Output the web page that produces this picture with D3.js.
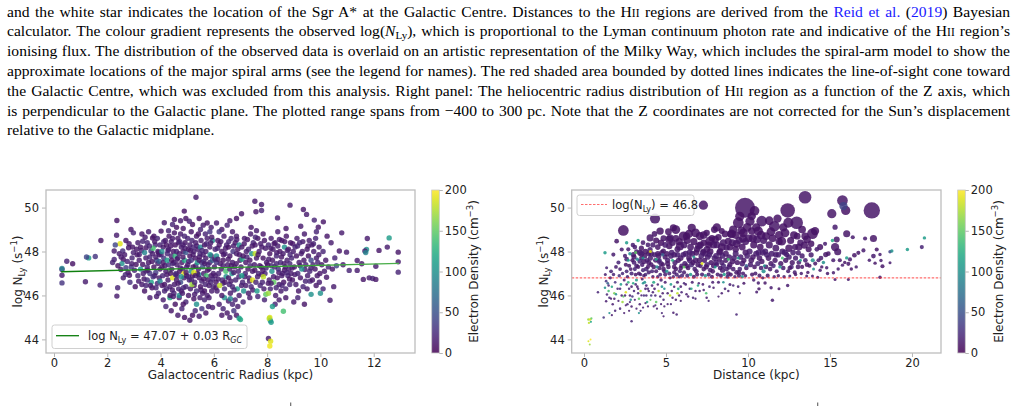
<!DOCTYPE html>
<html>
<head>
<meta charset="utf-8">
<script src="https://cdn.jsdelivr.net/npm/d3@7"></script>
<style>
  body { margin: 0; background: #fff; }
  svg { display: block; }
</style>
</head>
<body>
<div id="container"></div>
<script>
// ---- data ----
// left panel: [galactocentric radius kpc, log N_Ly, electron density cm^-3]
let radiusData = [
  [0.30,47.18,20],[0.30,47.23,90],[0.30,46.92,15],[0.30,46.57,30],[0.48,47.56,20],[0.70,47.44,10],[1.18,46.62,15],[1.30,47.71,110],[1.22,47.75,40],[1.55,47.77,30],[1.73,46.47,20],[1.76,48.50,10],
  [2.36,49.41,10],[2.35,48.74,15],[2.48,48.35,190],[2.39,46.35,20],[2.36,45.97,15],[2.89,49.0,12],[2.98,48.85,20],[2.80,48.17,10],[2.58,48.02,25],[2.26,48.02,15],[2.26,47.64,20],[2.60,47.64,10],[2.70,47.26,35],[2.51,47.18,15],[2.83,46.92,10],[2.93,47.71,20],[2.45,47.9,15],[2.55,47.45,100],[2.65,47.85,15],[2.75,47.55,20],[2.4,47.35,10],[2.9,47.3,30],[2.95,48.2,12],[2.2,47.5,20],[2.7,48.5,10],[2.85,46.6,25],[2.6,46.8,15],[2.3,48.3,40],[2.98,47.95,18],[2.78,47.05,12],
  [2.52,47.75,15],[2.68,46.95,20],[2.82,48.35,12],[2.92,47.45,15],[3.02,47.15,20],[3.12,47.85,12],[3.18,46.65,15],[3.28,48.05,20],[3.38,46.75,12],[3.42,48.65,15],
  [3.08,47.41,10],[3.20,47.86,15],[3.33,48.47,20],[3.45,48.17,12],[3.64,48.02,30],[3.70,48.62,10],[3.95,46.8,15],[3.83,46.35,20],[3.45,47.11,25],[3.33,47.41,10],[3.45,47.71,15],[3.1,48.1,12],[3.15,46.9,20],[3.25,47.2,105],[3.3,46.5,15],[3.4,46.2,10],[3.5,48.4,20],[3.55,47.5,12],[3.6,47.0,30],[3.65,46.6,115],[3.7,47.9,15],[3.75,47.3,10],[3.8,48.3,20],[3.85,47.6,45],[3.9,48.0,15],[3.92,46.1,20],[3.98,47.2,12],[3.6,45.9,15],[3.5,46.7,25],[3.2,47.6,15],[3.4,47.95,90],[3.75,48.7,10],[3.88,48.6,20],[3.95,47.85,15],[3.3,48.8,12],[3.55,48.9,15],[3.68,46.35,10],[3.82,47.05,35],[3.9,47.45,15],[3.45,46.45,20],[3.15,48.4,15],[3.05,46.4,10],[3.6,47.75,20],[3.72,48.15,140],[3.25,48.2,12],[3.98,48.3,20],[3.85,45.95,15],[3.35,47.0,15],[3.5,47.3,18],[3.78,46.9,12],[3.95,47.55,60],
  [3.52,47.15,12],[3.58,48.25,20],[3.62,46.45,15],[3.68,47.55,10],[3.72,46.85,25],[3.78,48.45,12],[3.82,47.75,15],[3.88,46.55,20],[3.92,47.95,12],[3.98,46.65,90],[4.02,47.85,15],[4.06,46.45,12],[4.12,48.45,20],[4.16,47.35,15],[4.24,46.95,12],[4.28,48.05,20],[4.34,47.15,150],[4.38,48.25,12],[4.44,46.25,15],[4.46,47.45,20],
  [4.02,48.93,10],[4.14,49.31,15],[4.52,49.46,12],[4.45,49.23,20],[4.89,49.84,10],[4.75,49.4,15],[4.6,49.1,10],[4.3,48.95,20],[4.85,49.05,12],[4.95,49.5,10],
  [4.1,45.8,15],[4.2,45.5,20],[4.4,45.3,12],[4.55,45.6,10],[4.65,45.1,15],[4.8,45.4,20],[4.9,45.0,10],[4.35,45.9,120],[4.7,45.9,15],[4.95,45.7,20],
  [4.05,47.3,12],[4.08,46.9,20],[4.1,48.2,15],[4.12,47.7,30],[4.15,46.5,10],[4.18,48.5,15],[4.05,48.0,95],[4.2,47.1,15],[4.15,46.2,20],[4.1,47.5,12],
  [4.22,48.3,10],[4.25,47.9,20],[4.28,46.7,15],[4.3,47.4,25],[4.32,48.7,12],[4.35,46.4,15],[4.38,47.0,10],[4.25,47.6,110],[4.3,48.1,15],[4.4,47.8,20],[4.36,46.0,12],[4.22,46.3,20],[4.4,48.45,15],
  [4.42,47.2,15],[4.45,46.8,190],[4.48,48.0,12],[4.5,47.5,20],[4.52,46.5,15],[4.55,48.3,10],[4.58,47.0,25],[4.45,48.6,15],[4.5,46.1,20],[4.55,47.8,130],[4.6,46.7,12],[4.48,45.95,15],[4.6,48.0,20],[4.42,47.6,10],
  [4.62,47.4,15],[4.65,48.6,12],[4.68,46.3,20],[4.7,47.9,15],[4.72,47.1,10],[4.75,46.6,45],[4.78,48.2,15],[4.65,47.7,20],[4.7,46.0,100],[4.8,47.5,12],[4.75,48.8,15],[4.62,46.9,20],[4.68,48.4,12],[4.78,46.2,15],
  [4.82,47.2,20],[4.85,48.0,10],[4.88,46.8,15],[4.9,47.6,120],[4.92,48.4,12],[4.95,46.4,20],[4.98,47.3,15],[4.85,45.6,10],[4.9,48.7,20],[4.82,46.1,15],[4.95,47.95,55],[4.88,47.0,195],[4.98,46.9,12],[4.84,48.3,15],
  [4.52,48.85,12],[4.56,46.95,20],[4.62,47.65,15],[4.66,46.55,12],[4.72,48.45,20],[4.74,47.25,15],[4.78,46.85,100],[4.84,47.75,12],[4.86,46.35,20],[4.92,48.15,15],[4.96,47.05,12],[5.04,46.85,20],[5.06,47.55,15],[5.12,48.05,12],[5.16,46.7,20],[5.22,47.85,15],[5.26,46.45,12],[5.32,47.35,20],[5.36,48.25,15],[5.44,46.95,90],[5.46,47.75,12],
  [5.33,50.47,15],[5.2,49.23,10],[5.08,49.38,20],[5.45,49.5,12],[5.6,49.2,15],[5.75,49.3,10],[5.5,49.0,20],[5.9,49.1,15],[5.15,48.9,12],[5.85,48.9,30],
  [5.1,44.87,15],[5.2,45.1,10],[5.3,45.3,20],[5.45,45.05,15],[5.55,45.4,30],[5.7,45.2,12],[5.8,45.5,15],[5.35,45.6,100],[5.65,45.8,20],[5.95,45.45,15],[5.25,45.85,10],
  [5.02,47.4,15],[5.05,48.1,12],[5.08,46.7,20],[5.1,47.8,10],[5.12,46.3,15],[5.15,47.1,100],[5.18,48.5,20],[5.05,46.0,12],[5.1,48.3,15],[5.15,47.6,30],[5.2,46.9,12],[5.02,48.6,20],[5.18,46.5,170],
  [5.22,47.3,10],[5.25,48.0,15],[5.28,46.6,20],[5.3,47.7,12],[5.32,48.4,15],[5.35,46.2,25],[5.38,47.0,10],[5.25,47.05,190],[5.3,46.9,15],[5.35,48.7,12],[5.22,48.2,20],[5.38,47.5,110],[5.28,46.05,15],[5.4,48.1,15],
  [5.42,47.2,15],[5.45,46.8,12],[5.48,47.9,20],[5.5,46.4,10],[5.52,48.5,15],[5.55,47.5,25],[5.58,46.1,15],[5.45,47.6,12],[5.5,48.2,90],[5.55,46.65,20],[5.6,47.85,15],[5.42,48.8,10],[5.58,47.3,45],[5.48,45.9,15],
  [5.62,47.0,15],[5.65,48.3,10],[5.68,46.5,20],[5.7,47.7,12],[5.72,46.9,140],[5.75,48.6,15],[5.78,47.4,20],[5.65,46.2,10],[5.7,48.0,15],[5.62,47.55,25],[5.78,46.7,12],[5.75,46.0,15],[5.68,48.8,20],
  [5.82,47.2,15],[5.85,48.2,12],[5.88,46.6,20],[5.9,47.8,10],[5.92,46.2,15],[5.95,48.5,100],[5.98,47.0,15],[5.85,47.5,20],[5.9,46.9,12],[5.82,45.9,15],[5.95,47.6,60],[5.88,48.4,12],[5.98,46.4,20],
  [5.52,46.25,15],[5.56,48.05,20],[5.62,46.75,12],[5.66,47.45,15],[5.72,48.35,20],[5.76,47.15,12],[5.82,46.45,15],[5.86,47.85,100],[5.92,48.65,12],[5.96,46.75,20],[6.04,47.65,15],[6.08,46.35,12],[6.14,48.15,20],[6.16,46.75,15],[6.24,47.45,12],[6.26,48.45,15],[6.34,46.55,20],[6.36,47.85,12],[6.44,48.15,15],[6.46,46.85,100],
  [6.1,49.3,15],[6.3,49.0,12],[6.5,49.2,20],[6.7,48.9,15],[6.85,49.5,10],[7.04,49.72,12],[6.2,48.9,30],[6.6,49.4,15],
  [6.2,45.6,15],[6.35,45.4,20],[6.5,45.2,12],[6.6,45.0,15],[6.75,45.3,30],[6.85,45.1,12],[6.95,44.96,110],[7.0,44.9,120],[6.7,45.6,20],[6.9,45.5,15],[6.4,45.9,100],[6.55,45.75,15],[6.3,45.1,12],
  [6.02,47.3,15],[6.05,48.1,20],[6.08,46.6,12],[6.1,47.8,100],[6.12,46.2,15],[6.15,48.5,10],[6.18,47.0,20],[6.05,46.9,15],[6.1,47.5,30],[6.2,48.3,12],[6.22,46.45,180],[6.15,47.65,15],
  [6.28,47.2,15],[6.3,48.0,12],[6.32,46.7,20],[6.35,47.6,10],[6.38,48.7,15],[6.4,46.3,25],[6.42,47.9,15],[6.45,47.1,140],[6.3,46.0,12],[6.48,48.3,20],[6.35,47.35,15],[6.42,46.6,12],
  [6.52,47.4,15],[6.55,48.2,10],[6.58,46.5,20],[6.6,47.8,12],[6.62,46.1,15],[6.65,48.6,20],[6.68,47.0,100],[6.7,47.5,15],[6.55,46.8,12],[6.72,48.0,30],[6.6,47.2,15],[6.7,46.4,20],[6.62,45.85,90],
  [6.78,47.3,15],[6.8,48.4,12],[6.82,46.7,20],[6.85,47.9,15],[6.88,46.3,110],[6.9,48.1,10],[6.92,47.1,20],[6.95,46.0,15],[6.98,47.6,12],[6.8,45.8,20],[6.85,48.7,15],[6.95,48.3,100],[6.75,47.05,15],
  [6.54,47.65,12],[6.56,48.45,20],[6.64,46.65,15],[6.66,47.35,12],[6.74,48.25,15],[6.76,46.25,20],[6.84,47.45,12],[6.86,48.55,15],[6.94,46.85,20],[6.96,47.85,12],[7.04,46.45,15],[7.06,47.65,120],[7.14,48.35,12],[7.16,46.85,15],[7.24,47.75,20],[7.26,48.55,12],[7.34,46.65,15],[7.36,47.35,20],[7.44,48.25,12],[7.46,46.25,15],
  [7.02,47.3,15],[7.05,48.2,12],[7.08,46.6,20],[7.1,47.8,10],[7.12,46.2,100],[7.15,48.6,15],[7.18,47.0,20],[7.05,46.9,110],[7.2,47.5,12],[7.22,48.0,15],[7.1,45.7,20],[7.2,46.45,15],
  [7.28,47.2,12],[7.3,48.1,20],[7.32,46.8,15],[7.35,47.6,10],[7.38,48.8,15],[7.4,46.4,20],[7.42,47.9,100],[7.45,47.1,15],[7.3,46.1,12],[7.48,48.4,20],[7.35,45.9,15],[7.4,49.1,12],[7.45,46.7,190],
  [7.52,47.4,15],[7.55,48.3,12],[7.58,46.6,20],[7.6,47.7,15],[7.62,46.2,110],[7.65,48.6,10],[7.68,47.0,20],[7.55,47.9,180],[7.7,48.0,15],[7.58,49.81,12],[7.54,50.29,15],[7.72,47.35,12],[7.65,45.95,20],[7.6,48.95,15],
  [7.79,50.14,15],[7.79,49.87,20],[7.78,47.3,12],[7.8,48.2,15],[7.82,46.6,20],[7.85,47.7,10],[7.88,46.3,15],[7.9,48.5,12],[7.92,47.0,20],[7.95,46.05,150],[7.98,47.5,15],[7.85,48.8,12],[7.9,45.8,20],[7.8,46.95,15],
  [7.54,47.15,12],[7.56,48.65,20],[7.64,46.85,15],[7.66,47.85,12],[7.74,46.45,20],[7.76,48.35,15],[7.84,47.15,12],[7.86,46.85,180],[7.94,48.15,15],[7.96,47.25,20],[8.04,46.55,12],[8.06,47.65,15],[8.14,48.15,12],[8.16,47.35,20],[8.24,46.85,15],[8.26,48.35,12],[8.34,46.35,20],[8.36,47.95,15],[8.44,47.05,12],[8.46,48.55,15],
  [8.1,45.0,190],[8.12,44.86,100],[8.08,44.95,180],[8.15,44.78,110],[8.05,44.04,15],[8.13,43.92,190],[8.1,43.7,195],[8.61,45.28,140],
  [8.39,49.53,15],[8.71,49.05,12],[8.86,50.11,15],[8.02,47.4,12],[8.05,48.3,20],[8.08,46.7,15],[8.1,47.9,10],[8.12,46.3,20],[8.15,48.6,15],[8.18,47.1,100],[8.2,47.6,12],[8.05,46.1,170],[8.22,48.1,15],[8.25,46.6,150],[8.28,47.3,20],[8.3,48.4,12],[8.32,46.0,15],[8.35,47.8,20],[8.38,46.8,12],[8.4,48.9,15],[8.42,47.2,25],[8.45,46.5,15],[8.48,48.0,12],[8.5,47.5,20],[8.52,46.2,15],[8.55,48.5,12],[8.58,47.0,20],[8.6,47.9,15],[8.62,46.6,10],[8.65,48.2,100],[8.68,47.3,15],[8.7,46.3,20],[8.72,48.7,12],[8.75,47.6,15],[8.78,46.9,20],[8.8,48.1,12],[8.82,47.2,15],[8.85,46.5,20],[8.88,48.4,12],[8.9,47.0,15],[8.92,47.7,20],[8.95,46.7,12],[8.98,48.0,15],[8.3,45.6,20],[8.45,45.8,15],[8.7,45.9,12],[8.2,45.5,110],[8.55,46.9,15],[8.35,47.45,20],[8.15,46.55,15],[8.65,47.15,12],[8.85,47.45,20],[8.4,48.25,15],
  [8.54,47.75,12],[8.56,46.45,20],[8.64,47.45,15],[8.66,48.45,12],[8.74,47.05,20],[8.76,48.05,15],[8.84,46.75,12],[8.86,47.85,20],[8.94,47.25,15],[8.96,48.35,12],[9.04,46.95,15],[9.14,48.25,20],[9.24,47.35,12],[9.34,48.45,15],[9.44,46.65,20],[9.54,48.25,12],[9.64,47.25,15],[9.74,48.35,20],[9.84,46.45,12],[9.94,47.85,15],
  [9.26,49.15,15],[9.36,49.91,12],[9.48,49.69,15],[9.77,49.43,20],[9.92,49.11,12],[9.42,47.18,15],[9.61,46.65,20],[9.96,46.6,15],[9.02,47.3,12],[9.05,48.2,20],[9.08,46.5,15],[9.1,47.8,10],[9.12,48.6,15],[9.15,47.0,20],[9.18,46.2,12],[9.2,47.5,15],[9.22,48.4,20],[9.25,46.8,12],[9.28,47.9,15],[9.3,47.2,100],[9.32,48.0,15],[9.35,46.4,20],[9.38,47.6,12],[9.4,48.8,15],[9.45,47.4,20],[9.5,48.1,12],[9.52,46.9,15],[9.55,47.8,10],[9.58,48.5,15],[9.6,47.1,20],[9.65,47.6,40],[9.68,48.3,15],[9.7,46.7,12],[9.72,47.4,20],[9.75,48.0,15],[9.8,47.2,12],[9.82,48.6,20],[9.85,47.7,15],[9.88,46.9,12],[9.9,47.5,20],[9.95,48.2,15],[9.98,47.0,12],[9.5,46.3,15],[9.15,45.9,20],[9.65,46.05,100],[9.0,45.7,15],[9.4,45.6,12],[9.85,48.9,20],
  [10.11,49.35,12],[10.8,48.85,15],[10.71,48.02,12],[10.98,47.97,15],[10.54,47.71,20],[10.23,46.83,12],[10.36,45.78,15],[10.05,47.4,12],[10.1,48.0,20],[10.15,47.1,15],[10.2,47.6,12],[10.3,47.3,20],[10.4,48.4,15],[10.45,47.2,12],[10.5,46.4,15],[10.6,47.35,40],[10.1,46.3,20],[10.25,48.7,12],[10.85,47.4,15],[10.0,46.1,100],
  [11.76,48.59,15],[12.58,48.62,110],[12.51,48.2,15],[12.92,47.97,12],[12.92,47.53,15],[12.92,47.06,20],[12.08,47.33,15],[11.55,47.44,12],[11.38,47.59,15],[11.08,47.14,20],[11.38,47.14,15],[11.61,46.73,12],[11.83,46.8,15],[11.96,46.77,20],[12.08,46.73,12],[11.73,48.09,100],[11.67,48.02,15],[11.7,47.95,90],[12.2,48.05,12]
];

// right panel: [heliocentric distance kpc, log N_Ly, electron density cm^-3, region size (relative)]
let distanceData = [
  [0.27,44.9,170,1],[0.37,44.9,190,1],[0.45,44.95,150,0.8],[0.3,44.75,180,0.8],[0.42,44.8,120,0.8],[0.27,43.92,190,0.6],[0.35,43.77,170,0.6],[0.4,44.0,200,0.6],[0.85,46.15,20,1],
  [1.28,47.94,110,2],[1.38,47.26,20,1.5],[1.3,46.95,15,1.5],[1.35,46.65,30,1.2],[1.28,46.35,100,1],[1.4,46.04,20,1],[1.35,45.74,15,1],[1.2,45.0,30,1],[1.45,46.55,60,1.2],[1.5,46.2,140,1],[1.55,45.9,20,1],[1.6,46.8,15,2],[1.65,47.1,20,2.5],[1.7,46.4,120,1],[1.75,45.6,15,1],[1.79,47.86,15,3],[1.99,48.47,12,4],[1.8,46.95,20,2],[1.85,46.1,160,1],[1.9,45.3,20,1],[1.95,47.3,15,2.5],[1.9,46.6,30,1.2],[1.7,45.1,15,0.8],[1.55,45.2,100,0.8],[1.85,45.85,15,1],
  [2.3,48.09,15,3],[2.4,48.96,10,25],[2.1,47.5,20,3],[2.2,47.2,15,2.5],[2.15,46.9,25,2],[2.25,46.5,110,1.2],[2.05,46.3,20,1],[2.3,46.0,15,1],[2.35,45.7,170,1],[2.2,45.4,20,1],[2.45,45.2,15,0.8],[2.5,47.8,15,3],[2.55,47.4,12,3],[2.6,47.1,20,2.5],[2.65,46.85,15,2],[2.7,46.6,130,1.2],[2.75,46.3,20,1],[2.8,46.0,15,1],[2.85,45.8,100,1],[2.9,45.5,15,1],[2.9,44.83,20,1],[2.95,47.6,12,3],[2.98,48.3,15,3.5],[2.6,48.4,110,2],[2.7,48.1,15,3],[2.45,46.7,15,1.5],[2.55,46.15,190,1],[2.65,45.6,20,1],[2.75,45.3,15,0.8],[2.35,47.0,20,2],[2.85,47.2,12,2.5],[2.9,46.4,15,1.2],[2.8,47.9,100,2],[2.5,46.0,15,1],[2.95,45.95,30,1],
  [3.01,47.86,15,5],[3.42,47.94,12,7],[3.05,47.5,15,4],[3.1,47.2,20,3],[3.15,46.95,12,2.5],[3.2,46.7,110,1.5],[3.25,46.4,15,1.2],[3.3,46.1,20,1],[3.35,45.85,150,1],[3.4,45.6,15,1],[3.45,45.3,20,0.8],[3.5,47.7,12,4],[3.55,47.4,15,3.5],[3.6,47.15,20,3],[3.65,46.9,12,2],[3.7,46.6,100,1.5],[3.75,46.3,15,1.2],[3.8,46.0,20,1],[3.85,45.7,120,1],[3.9,45.5,15,0.8],[3.95,47.9,12,5],[3.1,48.2,15,4],[3.3,48.5,120,2],[3.2,48.0,15,4],[3.5,48.15,12,5],[3.6,48.4,15,4],[3.75,48.0,10,6],[3.85,47.6,15,4],[3.9,47.3,12,3],[3.95,47.05,15,3],[3.4,47.55,20,4],[3.3,47.3,12,3],[3.25,47.65,90,2],[3.7,47.8,12,5],[3.15,46.5,20,1.2],[3.45,46.2,180,1],[3.55,46.75,15,1.5],[3.65,46.0,25,1],[3.8,46.45,15,1.2],[3.35,45.2,100,0.8],[3.6,45.45,20,0.8],[3.95,46.2,15,1],[3.05,46.2,20,1],[3.9,48.3,15,4],[3.45,46.95,15,2],[3.75,46.95,20,2.5],[3.2,45.4,15,0.8],
  [4.33,49.5,12,22],[4.64,48.93,10,11],[4.03,48.62,12,10],[4.03,48.09,15,5],[4.84,48.02,12,5],[4.05,47.7,15,5],[4.1,47.4,12,4],[4.15,47.1,20,3],[4.2,46.85,15,2],[4.25,46.6,120,1.5],[4.3,46.3,15,1.2],[4.35,46.0,20,1],[4.4,45.7,150,1],[4.45,45.4,15,0.8],[4.5,47.9,12,6],[4.55,47.55,15,4],[4.6,47.25,12,3.5],[4.65,46.95,20,2.5],[4.7,46.7,15,2],[4.75,46.4,100,1.2],[4.8,46.1,15,1],[4.85,45.8,20,1],[4.9,45.5,15,0.8],[4.95,47.75,12,5],[4.2,48.3,15,5],[4.4,48.5,10,7],[4.5,48.2,12,6],[4.7,48.4,10,8],[4.85,48.6,12,7],[4.95,48.3,15,6],[4.3,47.85,15,5],[4.6,47.6,20,4],[4.8,47.4,12,4],[4.9,47.1,15,3],[4.45,47.3,90,2],[4.35,47.6,15,4],[4.75,47.95,12,5],[4.15,46.45,20,1.2],[4.55,46.2,180,1],[4.65,45.95,20,1],[4.95,46.6,15,1.5],[4.25,45.5,15,0.8],[4.75,45.2,20,0.8],[4.85,45.05,15,0.8],[4.5,46.85,15,2],[4.1,46.0,30,1],[4.3,48.8,12,6],
  [5.45,49.08,10,10],[5.25,48.62,12,10],[5.85,48.24,10,14],[5.45,45.21,15,1],[5.65,45.13,20,1],[5.05,47.9,12,6],[5.1,47.6,15,5],[5.15,47.3,12,4],[5.2,47.0,20,3],[5.25,46.8,15,2],[5.3,46.5,110,1.2],[5.35,46.2,15,1],[5.4,45.9,20,1],[5.5,47.85,12,6],[5.55,47.5,15,5],[5.6,47.2,12,4],[5.65,46.95,20,3],[5.7,46.6,15,1.5],[5.75,46.3,120,1.2],[5.8,46.0,15,1],[5.9,47.7,12,6],[5.95,47.35,15,4],[5.98,46.9,20,3],[5.2,48.25,10,8],[5.4,48.4,12,8],[5.6,48.6,10,9],[5.7,48.1,12,7],[5.15,48.9,10,9],[5.35,47.95,15,6],[5.75,47.6,12,5],[5.05,47.1,100,2],[5.5,47.05,15,3],[5.85,47.1,20,3],[5.9,46.4,15,1.2],[5.25,46.0,180,1],[5.6,45.8,15,1],[5.95,46.15,20,1],[5.1,45.6,15,0.8],[5.45,46.85,20,2],[5.8,46.85,15,2],
  [6.57,49.08,10,14],[6.06,48.7,10,18],[6.1,48.3,12,9],[6.3,48.5,10,10],[6.5,48.2,12,9],[6.7,48.45,10,10],[6.9,48.1,12,8],[6.2,47.9,15,7],[6.4,47.7,12,6],[6.6,47.9,15,7],[6.8,47.6,12,6],[6.15,47.45,15,5],[6.35,47.25,12,4],[6.55,47.4,20,5],[6.75,47.2,15,4],[6.95,47.4,12,5],[6.1,47.05,15,3],[6.3,46.9,20,3],[6.5,46.95,110,2],[6.7,46.85,15,3],[6.9,46.95,12,3],[6.2,46.5,15,1.2],[6.45,46.3,20,1],[6.6,46.6,15,1.5],[6.8,46.2,15,1],[6.95,46.45,120,1],[6.25,46.05,15,1],[6.65,45.9,20,1],[6.45,47.6,15,6],[6.85,47.95,10,7],[6.25,48.7,10,10],
  [7.28,50.11,12,18],[7.48,48.85,10,8],[7.68,48.47,10,18],[7.07,48.7,10,14],[7.28,48.02,12,5],[7.1,48.3,12,9],[7.3,48.4,10,8],[7.5,48.1,12,9],[7.7,48.0,10,8],[7.9,48.3,12,10],[7.15,47.8,15,6],[7.35,47.6,12,5],[7.55,47.75,15,6],[7.75,47.5,12,5],[7.95,47.7,15,6],[7.1,47.35,15,4],[7.3,47.2,12,4],[7.5,47.4,20,5],[7.7,47.15,15,4],[7.9,47.35,12,5],[7.2,46.95,15,3],[7.4,46.9,100,2],[7.6,46.95,15,3],[7.8,46.85,12,3],[7.25,46.5,15,1.2],[7.48,45.89,15,1],[7.65,46.4,20,1.2],[7.85,46.6,15,1.5],[7.05,46.2,15,1],[7.45,46.1,140,1],[7.4,47.9,12,7],[7.6,48.3,10,9],[7.8,48.6,10,8],[7.95,49.0,10,9],
  [8.4,48.93,10,7],[8.8,48.47,10,10],[8.7,48.17,12,7],[8.1,48.3,12,9],[8.3,48.0,10,8],[8.5,48.4,12,10],[8.9,48.2,10,9],[8.05,47.8,15,6],[8.25,47.65,12,5],[8.45,47.8,15,6],[8.65,47.6,12,5],[8.85,47.75,15,6],[8.1,47.4,15,4],[8.3,47.25,12,4],[8.5,47.35,20,5],[8.7,47.2,15,4],[8.9,47.4,12,5],[8.15,46.95,15,3],[8.35,46.9,12,3],[8.55,46.95,110,2],[8.75,46.85,15,3],[8.95,46.95,12,3],[8.2,46.6,15,1.5],[8.6,46.3,20,1.2],[8.9,46.5,15,1.5],[8.4,46.1,15,1],[8.6,48.8,10,9],[8.2,48.65,10,8],[8.95,48.8,10,10],[8.4,47.5,15,5],[8.8,47.0,15,4],
  [9.82,49.99,12,100],[9.41,49.31,10,25],[9.1,49.0,10,14],[9.72,48.85,10,16],[9.3,45.13,20,1],[9.05,48.4,12,10],[9.25,48.1,10,8],[9.45,48.5,12,10],[9.65,48.2,10,9],[9.85,48.45,12,10],[9.15,47.7,15,6],[9.35,47.5,12,5],[9.55,47.75,15,6],[9.75,47.6,12,5],[9.95,47.8,15,6],[9.1,47.2,15,4],[9.3,47.05,12,4],[9.5,47.2,20,4],[9.7,47.0,15,3],[9.9,47.25,12,4],[9.2,46.85,15,2],[9.45,46.9,12,3],[9.65,46.85,100,2],[9.85,46.9,15,2],[9.4,46.4,15,1.2],[9.75,46.55,12,1.5],[9.25,48.75,10,12],[9.6,48.95,10,14],[9.95,49.1,10,16],[9.5,49.6,10,18],
  [10.12,49.38,10,18],[10.23,48.93,10,11],[10.23,49.61,10,14],[10.84,49.38,12,25],[10.63,48.93,10,18],[10.05,48.6,12,12],[10.35,48.3,10,10],[10.55,48.55,12,12],[10.75,48.2,10,9],[10.95,48.5,12,10],[10.1,48.0,15,7],[10.3,47.75,12,6],[10.5,47.9,15,7],[10.7,47.7,12,6],[10.9,47.95,15,7],[10.15,47.4,15,5],[10.4,47.3,12,4],[10.6,47.45,20,5],[10.8,47.25,15,4],[10.25,46.95,12,3],[10.45,47.0,15,3],[10.7,46.9,12,3],[10.95,47.1,100,3],[10.63,46.57,15,2],[10.67,46.3,12,2],[10.53,46.16,15,1.5],[10.35,46.7,15,2],[10.9,46.8,12,2],[10.5,49.1,10,14],[10.4,49.85,10,20],
  [11.61,49.15,12,25],[11.04,46.57,12,2],[11.41,46.35,15,2],[11.89,46.3,12,1.5],[11.49,45.78,15,2],[11.1,48.7,10,12],[11.3,48.3,12,10],[11.5,48.6,10,12],[11.7,48.15,12,9],[11.9,48.45,10,10],[11.05,48.0,15,7],[11.25,47.7,12,6],[11.45,47.9,15,7],[11.65,47.6,12,5],[11.85,47.85,15,6],[11.1,47.3,15,4],[11.35,47.2,12,4],[11.55,47.35,20,4],[11.75,47.1,15,3],[11.95,47.3,110,2],[11.2,46.9,12,3],[11.6,46.85,15,2],[11.85,46.9,12,2],[11.3,49.4,10,16],[11.8,49.5,10,14],
  [12.42,49.87,10,49],[12.97,49.31,12,36],[12.46,49.31,10,22],[12.26,48.85,10,16],[12.06,48.47,10,16],[12.87,48.2,12,7],[12.36,47.86,15,5],[12.42,46.45,15,2],[12.1,48.0,15,7],[12.3,47.6,12,5],[12.5,47.75,15,6],[12.7,47.5,12,5],[12.9,47.7,15,5],[12.15,47.25,15,4],[12.45,47.1,12,3],[12.65,47.3,20,4],[12.85,47.05,15,3],[12.2,46.85,12,2],[12.55,46.88,15,1.5],[12.9,46.95,12,2],[12.6,48.5,10,10],[12.8,48.75,10,12],[12.15,49.1,10,14],
  [13.48,50.47,12,36],[13.48,48.7,10,11],[13.93,48.81,10,25],[14.09,48.93,10,14],[13.44,48.29,10,10],[13.07,47.94,15,5],[13.58,46.88,12,1.5],[13.93,46.88,15,1.5],[13.2,48.4,12,8],[13.7,48.1,10,7],[13.1,47.5,15,4],[13.3,47.3,12,3],[13.5,47.6,15,4],[13.75,47.35,12,3],[13.95,47.6,100,3],[13.25,47.0,15,2],[13.65,47.05,12,2],[13.85,48.35,10,8],[13.3,49.0,10,12],[13.0,48.7,10,9],
  [14.25,46.83,12,1.5],[14.7,48.35,15,3],[14.74,47.86,12,5],[14.8,47.26,15,2],[14.5,47.3,12,2],[14.3,47.6,15,3],[14.6,47.5,100,2],[14.9,47.9,12,4],[14.2,48.1,15,4],[14.4,47.15,15,2],[14.85,47.0,12,2],
  [15.76,50.32,12,25],[15.96,49.87,10,18],[15.82,50.07,40,14],[15.11,49.72,12,18],[16.02,48.81,12,10],[15.31,49.11,15,5],[15.41,48.55,12,7],[15.31,48.2,12,14],[15.47,47.99,12,10],[15.15,48.5,120,2],[15.21,47.03,15,2],[15.31,46.73,12,1.5],[15.76,47.38,15,2],[16.02,47.71,110,2],[15.6,47.6,12,3],[15.5,47.2,15,2],[15.9,47.5,12,2],[15.2,47.6,15,3],
  [16.39,48.65,15,3],[16.49,47.83,12,4],[16.22,47.64,15,3],[16.12,47.44,12,3],[16.12,46.73,15,1.5],[16.73,47.94,12,3],[16.6,47.3,15,2],[16.3,47.2,12,2],
  [17.55,49.87,12,64],[17.14,48.59,15,3],[17.65,48.59,12,10],[17.04,48.05,15,3],[17.85,48.09,12,3],[17.65,47.79,15,4],[17.75,47.47,12,2],[17.4,47.6,15,2],
  [18.05,46.83,12,2],[18.11,47.59,15,2],[18.2,47.33,12,3],[18.05,47.86,15,2],[18.66,47.99,40,2],[18.77,48.02,100,2],[18.66,47.49,15,1.5],[19.72,48.09,110,2],[20.6,48.2,20,3],[20.76,48.62,110,2],
  [2.6,47.65,15,4],[2.75,47.35,12,3],[2.9,47.0,20,3],[3.05,47.75,12,5],[3.2,47.35,15,4],[3.35,47.0,12,3],[3.5,47.9,15,6],[3.65,47.55,12,5],[3.8,47.2,20,4],[3.95,47.5,12,5],[4.1,47.9,15,6],[4.25,47.3,12,4],[4.4,47.1,15,3],[4.55,47.8,12,6],[4.7,47.45,15,5],[4.85,47.2,12,4],[4.95,46.95,15,3],[2.7,47.6,110,1.5],[3.15,47.95,150,1.5],[3.6,47.7,100,1.5],[4.05,48.0,190,1.5],[4.4,47.65,120,1.5],[4.8,47.85,60,2],
  [5.1,47.45,12,5],[5.3,47.8,15,6],[5.5,47.3,12,4],[5.7,47.85,15,6],[5.9,47.25,12,4],[6.05,47.85,15,6],[6.25,47.35,12,5],[6.45,47.95,15,7],[6.65,47.5,12,5],[6.85,47.1,15,4],[7.05,47.6,12,6],[7.25,47.95,15,7],[7.45,47.3,12,5],[7.65,47.85,15,6],[7.85,47.1,12,4],[8.05,47.5,15,6],[8.25,47.95,12,7],[8.45,47.15,15,5],[8.65,47.9,12,7],[8.85,47.3,15,5],[9.05,47.55,12,6],[9.25,47.9,15,7],[9.45,47.05,12,4],[9.65,47.45,15,6],[9.85,47.95,12,7],
  [5.2,48.55,10,12],[5.8,48.45,10,11],[6.4,48.8,10,14],[7.0,48.25,10,11],[7.3,48.75,10,12],[8.0,48.55,10,11],[8.4,48.2,10,12],[9.0,48.8,10,16],[9.3,48.35,10,12],[9.7,48.6,10,14],[5.6,49.0,10,16],[6.8,48.85,10,16],[8.1,49.1,10,14],
  [5.4,47.6,120,1.5],[6.1,47.3,150,1.5],[6.7,47.75,100,1.5],[7.2,47.45,190,1.5],[8.0,47.3,110,1.5],[8.8,47.65,140,1.5],[9.4,47.7,100,1.5],[9.9,47.35,60,2],
  [10.2,47.6,12,6],[10.65,47.95,15,7],[10.85,47.55,12,5],[11.15,47.85,15,6],[11.4,47.45,12,5],[11.7,47.85,15,6],[12.0,47.45,12,5],[12.25,47.95,15,7],[12.55,47.25,12,4],[12.75,47.95,15,6],[13.05,47.3,12,4],[13.3,47.8,15,5],[13.6,47.4,12,4],[13.85,47.85,15,5],[14.1,47.45,12,3],[14.45,47.7,15,4],
  [10.3,48.6,10,14],[10.8,48.75,10,16],[11.4,48.9,10,16],[11.9,48.75,10,14],[12.5,48.15,10,11],[13.1,48.2,10,10],[13.6,48.55,10,12],[14.4,48.2,10,7],[11.0,47.35,100,1.5],[12.1,47.7,140,1.5],[13.2,47.6,110,1.5],[14.0,47.2,100,1.5],
  [1.5,46.45,20,1],[1.65,45.85,15,0.8],[1.95,46.05,100,1],[2.1,45.75,15,0.8],[2.2,46.3,20,1],[2.4,45.95,150,0.8],[2.55,45.55,15,0.8],[2.6,46.5,20,1],[2.8,45.7,15,0.8],[3.0,46.55,120,1],[3.1,45.8,15,0.8],[3.3,46.3,20,1],[3.5,46.0,15,0.8],[3.6,46.55,100,1],[3.75,45.65,15,0.8],[3.9,46.3,20,1],[4.05,45.8,150,0.8],[4.2,46.15,15,1],[4.35,45.55,20,0.8],[4.5,46.5,15,1],[4.7,45.6,15,0.8],[4.9,46.3,100,1],[5.1,46.1,15,1],[5.3,45.6,20,0.8],[5.5,46.4,15,1],[5.7,46.1,180,1],[5.9,45.75,15,0.8],[6.1,46.55,20,1],[6.35,45.95,15,1],[6.55,46.3,120,1],[6.8,45.85,15,0.8],[7.0,46.55,20,1],[7.3,46.25,15,1],[7.6,45.75,20,0.8],[7.9,46.35,15,1],[8.2,45.95,15,0.8],[8.5,46.6,100,1],[8.8,46.2,15,1],[9.1,46.45,20,1],[9.5,46.1,15,0.8]
];

let fitCoef = [47.07, 0.03];       // log N_Ly = a + b R_GC
let fitRange = [0.27, 12.95];
let cutLogN = 46.8;
let radiusTicks = [0, 2, 4, 6, 8, 10, 12];
let distanceTicks = [0, 5, 10, 15, 20];
let logNTicks = [44, 46, 48, 50];
let densityTicks = [0, 50, 100, 150, 200];

let captionLines = [
  ["and the white star indicates the location of the Sgr A* at the Galactic Centre. Distances to the H", {t: "II", sc: 1}, " regions are derived from the ", {t: "Reid et al.", c: "#1a1aff"}, " (", {t: "2019", c: "#1a1aff"}, ") Bayesian"],
  ["calculator. The colour gradient represents the observed log(", {t: "N", i: 1}, {t: "Ly", sub: 1}, "), which is proportional to the Lyman continuum photon rate and indicative of the H", {t: "II", sc: 1}, " region\u2019s"],
  ["ionising flux. The distribution of the observed data is overlaid on an artistic representation of the Milky Way, which includes the spiral-arm model to show the"],
  ["approximate locations of the major spiral arms (see the legend for names). The red shaded area bounded by dotted lines indicates the line-of-sight cone toward"],
  ["the Galactic Centre, which was excluded from this analysis. Right panel: The heliocentric radius distribution of H", {t: "II", sc: 1}, " region as a function of the Z axis, which"],
  ["is perpendicular to the Galactic plane. The plotted range spans from \u2212400 to 300 pc. Note that the Z coordinates are not corrected for the Sun\u2019s displacement"],
  ["relative to the Galactic midplane."]
];

// ---- drawing ----
let width = 1017, height = 406;
let sans = "'DejaVu Sans', Verdana, sans-serif";
let serif = "'Liberation Serif', 'Times New Roman', serif";

let svg = d3.select('#container').append('svg')
    .attr('width', width)
    .attr('height', height);

// caption text, justified with word spacing
captionLines.forEach(function(segs, li) {
    let text = svg.append('text')
        .attr('x', 7)
        .attr('y', 16.5 + li * 19.8)
        .style('font-family', serif)
        .style('font-size', '15.6px')
        .attr('fill', '#000');
    let shifted = 0;
    let spaces = 0;
    segs.forEach(function(s) {
        if (typeof s === 'string') s = {t: s};
        spaces += (s.t.match(/ /g) || []).length;
        let ts = text.append('tspan').text(s.t);
        if (shifted) { ts.attr('dy', -shifted); shifted = 0; }
        if (s.c) ts.attr('fill', s.c);
        if (s.sc) ts.style('font-size', '11.5px');
        if (s.i) ts.style('font-style', 'italic');
        if (s.sub) { ts.style('font-size', '11px').attr('dy', 3); shifted = 3; }
    });
    if (li < captionLines.length - 1) {
        let natural = text.node().getComputedTextLength();
        text.style('word-spacing', ((1003 - natural) / spaces) + 'px');
    }
});

let color = d3.scaleSequential(d3.interpolateViridis).domain([0, 200]);

let defs = svg.append('defs');
let grad = defs.append('linearGradient')
    .attr('id', 'viridis')
    .attr('x1', '0%').attr('y1', '100%')
    .attr('x2', '0%').attr('y2', '0%');
d3.range(0, 1.0001, 0.05).forEach(function(t) {
    grad.append('stop')
        .attr('offset', (t * 100) + '%')
        .attr('stop-color', d3.interpolateViridis(t));
});
let fitGrad = defs.append('linearGradient')
    .attr('id', 'fitgrad')
    .attr('x1', '0%').attr('x2', '100%').attr('y1', '0%').attr('y2', '0%');
fitGrad.append('stop').attr('offset', '0%').attr('stop-color', '#0b7d0b');
fitGrad.append('stop').attr('offset', '100%').attr('stop-color', '#4cb04c');

function styleAxis(g) {
    g.select('.domain').remove();
    g.selectAll('.tick line').attr('stroke', '#b5b5b5').attr('stroke-width', 1);
    g.selectAll('.tick text')
        .attr('fill', '#222')
        .style('font-family', sans)
        .style('font-size', '11.5px');
}

function panel(box, xScale, xTicks, xTitle, clipId) {
    defs.append('clipPath').attr('id', clipId)
        .append('rect')
        .attr('x', box.x0).attr('y', box.y0)
        .attr('width', box.x1 - box.x0).attr('height', box.y1 - box.y0);

    let yScale = d3.scaleLinear().domain([43.38, 50.8]).range([box.y1, box.y0]);

    svg.append('g')
        .attr('transform', 'translate(0,' + box.y1 + ')')
        .call(d3.axisBottom(xScale).tickValues(xTicks).tickSize(4).tickPadding(1.5))
        .call(styleAxis);
    svg.append('g')
        .attr('transform', 'translate(' + box.x0 + ',0)')
        .call(d3.axisLeft(yScale).tickValues(logNTicks).tickSize(4).tickPadding(3))
        .call(styleAxis);

    svg.append('text')
        .attr('x', (box.x0 + box.x1) / 2)
        .attr('y', 379)
        .attr('text-anchor', 'middle')
        .style('font-family', sans)
        .style('font-size', '12px')
        .attr('fill', '#222')
        .text(xTitle);

    let yl = svg.append('text')
        .attr('transform', 'translate(' + (box.x0 - 24) + ',' + ((box.y0 + box.y1) / 2) + ') rotate(-90)')
        .attr('text-anchor', 'middle')
        .style('font-family', sans)
        .style('font-size', '12px')
        .attr('fill', '#222');
    yl.append('tspan').text('log N');
    yl.append('tspan').text('Ly').style('font-size', '8.5px').attr('dy', 2.5);
    yl.append('tspan').text(' (s').attr('dy', -2.5);
    yl.append('tspan').text('\u22121').style('font-size', '8.5px').attr('dy', -5);
    yl.append('tspan').text(')').attr('dy', 5);

    let plot = svg.append('g').attr('clip-path', 'url(#' + clipId + ')');
    return {yScale: yScale, plot: plot};
}

function frame(box) {
    svg.append('rect')
        .attr('x', box.x0).attr('y', box.y0)
        .attr('width', box.x1 - box.x0).attr('height', box.y1 - box.y0)
        .attr('fill', 'none')
        .attr('stroke', '#bdbdbd')
        .attr('stroke-width', 1.3);
}

function colorbar(x, y0, y1, labelX) {
    let cy = d3.scaleLinear().domain([0, 200]).range([y1, y0]);
    svg.append('rect')
        .attr('x', x).attr('y', y0)
        .attr('width', 7.6).attr('height', y1 - y0)
        .attr('fill', 'url(#viridis)')
        .attr('opacity', 0.85);
    svg.append('rect')
        .attr('x', x).attr('y', y0)
        .attr('width', 7.6).attr('height', y1 - y0)
        .attr('fill', 'none')
        .attr('stroke', '#c8c8c8')
        .attr('stroke-width', 0.8);
    svg.append('g')
        .attr('transform', 'translate(' + (x + 7.6) + ',0)')
        .call(d3.axisRight(cy).tickValues(densityTicks).tickSize(3.5).tickPadding(2))
        .call(styleAxis);
    let t = svg.append('text')
        .attr('transform', 'translate(' + labelX + ',' + ((y0 + y1) / 2) + ') rotate(-90)')
        .attr('text-anchor', 'middle')
        .attr('dy', '0.35em')
        .style('font-family', sans)
        .style('font-size', '12px')
        .attr('fill', '#222');
    t.append('tspan').text('Electron Density (cm');
    t.append('tspan').text('\u22123').style('font-size', '8.5px').attr('dy', -5);
    t.append('tspan').text(')').attr('dy', 5);
}

// left panel
let boxL = {x0: 46, x1: 415, y0: 190, y1: 353};
let xR = d3.scaleLinear().domain([-0.3, 13.55]).range([boxL.x0, boxL.x1]);
let left = panel(boxL, xR, radiusTicks, 'Galactocentric Radius (kpc)', 'clipL');

left.plot.selectAll('.pt')
    .data(radiusData)
    .enter().append('circle')
    .attr('class', 'pt')
    .attr('cx', function(d) { return xR(d[0]); })
    .attr('cy', function(d) { return left.yScale(d[1]); })
    .attr('r', 2.7)
    .attr('fill', function(d) { return color(d[2]); })
    .attr('fill-opacity', 0.82);

left.plot.append('line')
    .attr('x1', xR(fitRange[0])).attr('x2', xR(fitRange[1]))
    .attr('y1', left.yScale(fitCoef[0] + fitCoef[1] * fitRange[0]))
    .attr('y2', left.yScale(fitCoef[0] + fitCoef[1] * fitRange[1]))
    .attr('stroke', 'url(#fitgrad)')
    .attr('stroke-width', 1.3);
frame(boxL);

// left legend
let lgL = svg.append('g');
lgL.append('rect')
    .attr('x', 52).attr('y', 325).attr('width', 195).attr('height', 23.5)
    .attr('rx', 2.5)
    .attr('fill', '#fff').attr('fill-opacity', 0.85)
    .attr('stroke', '#d0d0d0');
lgL.append('line')
    .attr('x1', 56).attr('x2', 79).attr('y1', 335.7).attr('y2', 335.7)
    .attr('stroke', '#0b7d0b').attr('stroke-width', 1.3);
let lt = lgL.append('text')
    .attr('x', 88).attr('y', 340)
    .style('font-family', sans).style('font-size', '11.5px').attr('fill', '#222');
lt.append('tspan').text('log N');
lt.append('tspan').text('Ly').style('font-size', '8px').attr('dy', 2.5);
lt.append('tspan').text(' = 47.07 + 0.03 R').attr('dy', -2.5);
lt.append('tspan').text('GC').style('font-size', '8px').style('font-style', 'italic').attr('dy', 2.5);

colorbar(431.7, 190, 353, 474);

// right panel
let boxR = {x0: 571.7, x1: 941, y0: 190, y1: 353};
let xD = d3.scaleLinear().domain([-0.75, 21.77]).range([boxR.x0, boxR.x1]);
let right = panel(boxR, xD, distanceTicks, 'Distance (kpc)', 'clipR');
let rSize = d3.scalePow().exponent(0.45).domain([0, 100]).range([0, 10]);

let sorted = distanceData.slice().sort(function(a, b) { return b[3] - a[3]; });
right.plot.selectAll('.pt')
    .data(sorted)
    .enter().append('circle')
    .attr('class', 'pt')
    .attr('cx', function(d) { return xD(d[0]); })
    .attr('cy', function(d) { return right.yScale(d[1]); })
    .attr('r', function(d) { return rSize(d[3]); })
    .attr('fill', function(d) { return color(d[2]); })
    .attr('fill-opacity', 0.85);

right.plot.append('line')
    .attr('x1', boxR.x0).attr('x2', boxR.x1)
    .attr('y1', right.yScale(cutLogN)).attr('y2', right.yScale(cutLogN))
    .attr('stroke', '#ff2020').attr('stroke-opacity', 0.65)
    .attr('stroke-width', 1.2)
    .attr('stroke-dasharray', '2.5,1.5');
frame(boxR);

let lgR = svg.append('g');
lgR.append('rect')
    .attr('x', 577).attr('y', 195).attr('width', 117).attr('height', 20.5)
    .attr('rx', 2.5)
    .attr('fill', '#fff').attr('fill-opacity', 0.85)
    .attr('stroke', '#d0d0d0');
lgR.append('line')
    .attr('x1', 581).attr('x2', 607).attr('y1', 204.5).attr('y2', 204.5)
    .attr('stroke', '#ff2020').attr('stroke-opacity', 0.65)
    .attr('stroke-width', 1.2)
    .attr('stroke-dasharray', '2.5,1.5');
let rt = lgR.append('text')
    .attr('x', 612).attr('y', 209)
    .style('font-family', sans).style('font-size', '11.5px').attr('fill', '#222');
rt.append('tspan').text('log(N');
rt.append('tspan').text('Ly').style('font-size', '8px').attr('dy', 2.5);
rt.append('tspan').text(') = 46.8').attr('dy', -2.5);

colorbar(957.7, 190, 353, 999);

// cut-off marks at the bottom edge
[290, 817].forEach(function(x) {
    svg.append('rect')
        .attr('x', x).attr('y', 402.5).attr('width', 1.3).attr('height', 3.5)
        .attr('fill', '#777');
});
</script>
</body>
</html>
